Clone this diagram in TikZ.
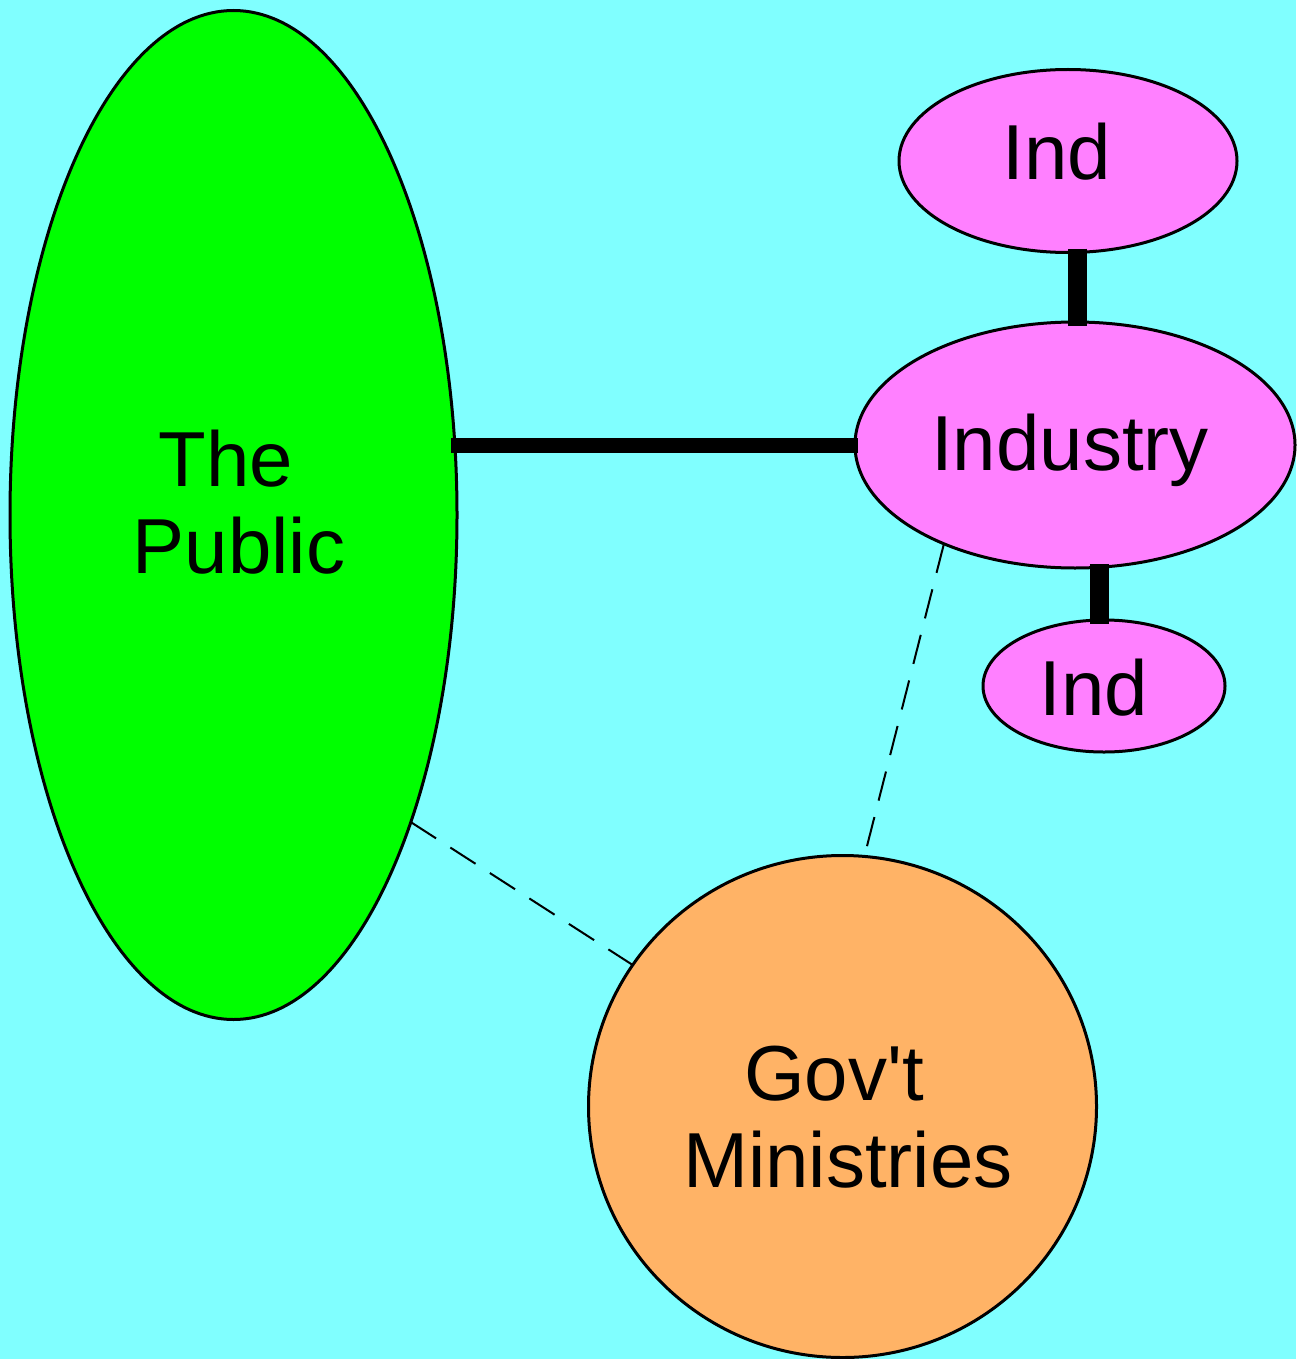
\documentclass[tikz,border=0pt]{standalone}
\usepackage{fontspec}
\newfontfamily\lsans{Liberation Sans}
\usetikzlibrary{shapes.geometric}
\definecolor{bgcyan}{HTML}{80FFFF}
\definecolor{pubgreen}{HTML}{00FF00}
\definecolor{indpink}{HTML}{FF80FF}
\definecolor{govorange}{HTML}{FFB366}
\tikzset{
  blob/.style={ellipse, draw=black, line width=3pt, inner sep=0pt, outer sep=0pt},
  lbl/.style={anchor=base, inner sep=0pt, font=\lsans\fontsize{78}{90}\selectfont, text=black},
  strong/.style={line width=15pt},
  stronger/.style={line width=19pt},
  weak/.style={line width=2pt, dash pattern=on 30pt off 17pt},
}
\begin{document}
\begin{tikzpicture}[x=1pt,y=-1pt]
\fill[bgcyan] (0,0) rectangle (1296,1359);
\useasboundingbox (0,0) rectangle (1296,1359);

% shapes
\node[blob, fill=pubgreen, minimum width=447pt, minimum height=1009pt] (pub) at (233.5,515) {};
\node[blob, fill=govorange, minimum width=508pt, minimum height=502pt] (gov) at (842.5,1106.5) {};
\node[blob, fill=indpink, minimum width=440pt, minimum height=246pt] (ind) at (1075,445) {};
\node[blob, fill=indpink, minimum width=338pt, minimum height=183pt] (indtop) at (1068,161) {};
\node[blob, fill=indpink, minimum width=242pt, minimum height=132pt] (indbot) at (1104,686) {};

% connectors
\draw[strong] ([xshift=3pt]ind.west) -- ([xshift=-6pt]pub.east |- ind.west);
\draw[stronger] ([xshift=9pt,yshift=4pt]indtop.south) -- ([xshift=2pt,yshift=-4pt]ind.north);
\draw[stronger] ([xshift=24pt,yshift=4pt]ind.south) -- ([xshift=-5pt,yshift=-4pt]indbot.north);
\draw[weak] (ind.217.5) -- (gov.85);
\draw[weak] (pub.300.4) -- (gov.146.4);

% labels
\node[lbl] (t1) at (226,486) {The};
\node[lbl] (t2) at (239,573) {Public};
\node[lbl] (t3) at (1070,470) {Industry};
\node[lbl] (t4) at (1057,179) {Ind};
\node[lbl] (t5) at (1094,715) {Ind};
\node[lbl] (t6) at (834,1100) {Gov't};
\node[lbl] (t7) at (848,1187) {Ministries};
\end{tikzpicture}
\end{document}
